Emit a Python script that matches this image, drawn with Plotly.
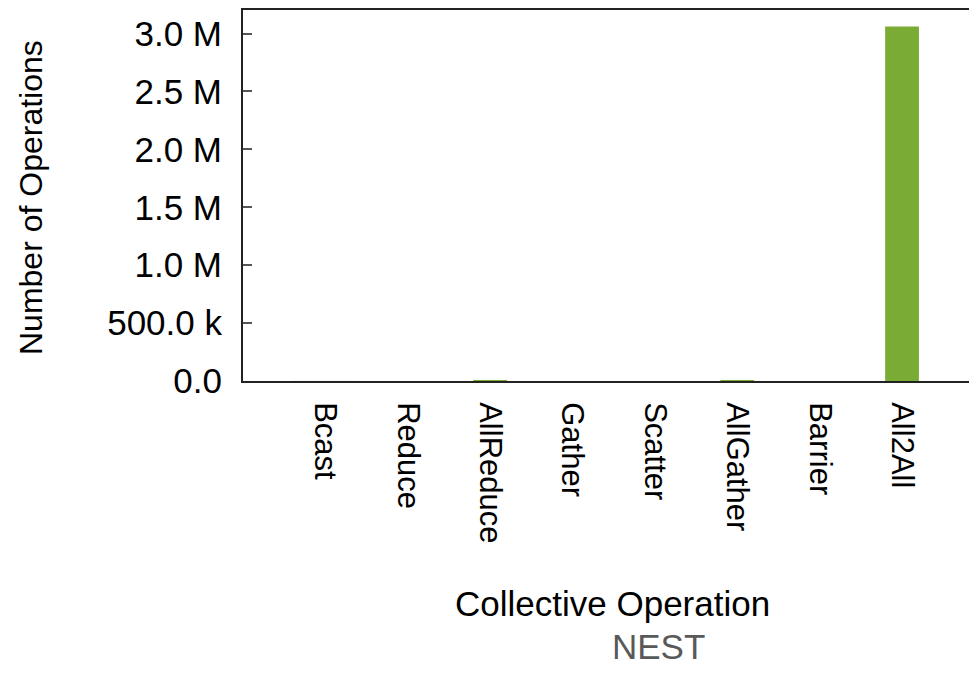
import plotly.graph_objects as go

categories = ["Bcast", "Reduce", "AllReduce", "Gather", "Scatter", "AllGather", "Barrier", "All2All"]
values = [0, 0, 8000, 0, 0, 4000, 0, 3060000]
y_tickvals = [0, 500000, 1000000, 1500000, 2000000, 2500000, 3000000]
y_ticktext = ["0.0", "500.0 k", "1.0 M", "1.5 M", "2.0 M", "2.5 M", "3.0 M"]

FONT = "Liberation Sans, Arial, sans-serif"
OFF = 8  # page body margin
W, H = 977 - OFF, 685 - 2 * OFF
PL, PT, PB, PR = 243, 8, 381, 977  # plot area in page pixels
L, T = PL - OFF, PT - OFF
B = H - (PB - OFF)
R = W - (PR - OFF)


def px(x):
    return (x - PL) / (PR - PL)


def py(y):
    return (PB - y) / (PB - PT)


fig = go.Figure()
fig.add_trace(go.Bar(x=list(range(len(categories))), y=values,
                     marker=dict(color="#7AAB34", line=dict(width=0)),
                     width=0.41, showlegend=False))

fig.update_layout(
    width=W, height=H,
    margin=dict(l=L, r=R, t=T, b=B, pad=0),
    paper_bgcolor="white", plot_bgcolor="white",
    font=dict(family=FONT, size=32, color="black"),
    xaxis=dict(range=[-1, 7.91], tickvals=list(range(len(categories))), ticktext=categories,
               tickangle=90, ticks="", showgrid=False, zeroline=False,
               showline=True, linecolor="#222", linewidth=2, mirror=True,
               tickfont=dict(size=31), ticklabelstandoff=13),
    yaxis=dict(range=[0, 3203000], tickvals=y_tickvals, ticktext=y_ticktext,
               ticks="inside", ticklen=9, tickcolor="#555", tickwidth=1.5,
               showgrid=False, zeroline=False, showline=True, linecolor="#222", linewidth=2,
               tickfont=dict(size=35), ticklabelstandoff=12),
    yaxis2=dict(range=[0, 3203000], tickvals=y_tickvals, overlaying="y", side="right",
                ticks="inside", ticklen=3, tickcolor="#777", tickwidth=1.5,
                showticklabels=False, showgrid=False, zeroline=False, showline=False),
    annotations=[
        dict(text="Collective Operation", xref="paper", yref="paper", x=px(612), y=py(605),
             xanchor="center", yanchor="middle", showarrow=False, font=dict(size=35, color="black")),
        dict(text="NEST", xref="paper", yref="paper", x=px(658), y=py(648),
             xanchor="center", yanchor="middle", showarrow=False, font=dict(size=35, color="#595959")),
        dict(text="Number of Operations", xref="paper", yref="paper", x=px(31), y=py(197),
             xanchor="center", yanchor="middle", textangle=-90,
             showarrow=False, font=dict(size=32, color="black")),
    ],
)
fig.add_trace(go.Bar(x=[0], y=[0], yaxis="y2", showlegend=False, hoverinfo="skip",
                     marker=dict(color="rgba(0,0,0,0)")))

fig.write_html("out.html")
